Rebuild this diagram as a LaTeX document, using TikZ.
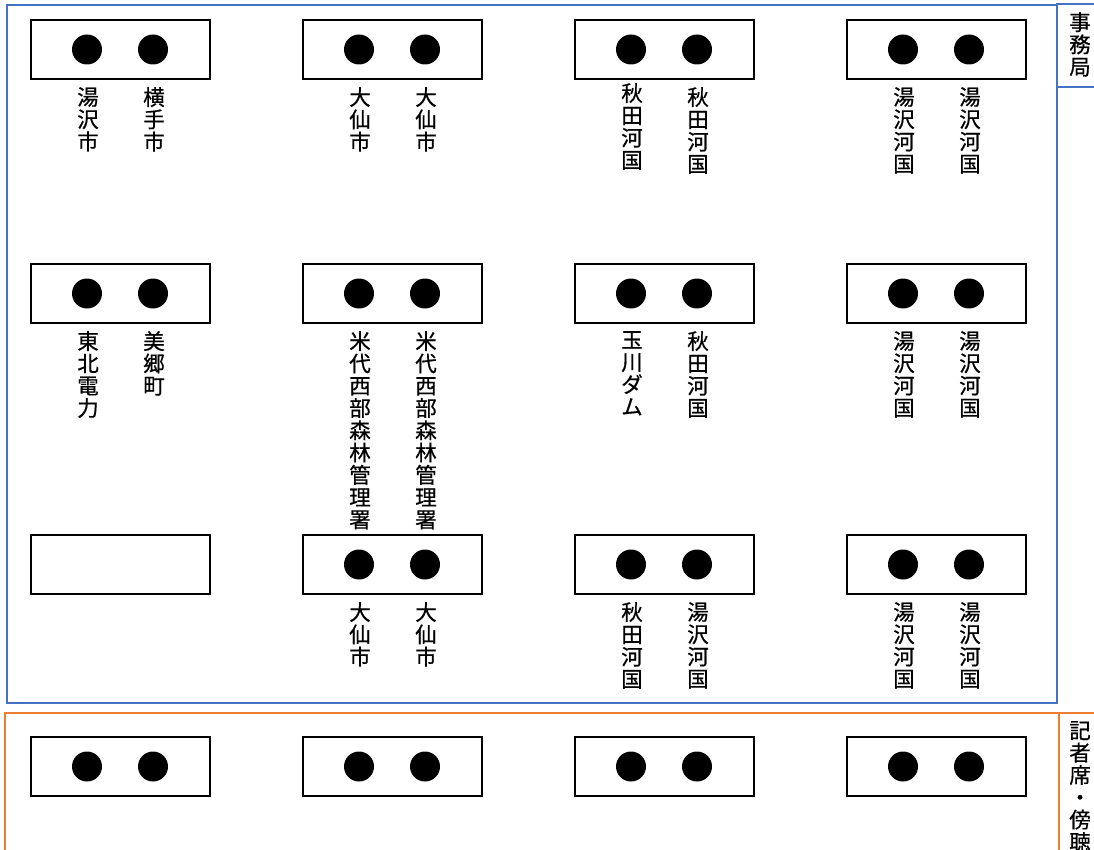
\documentclass[tikz,border=0pt]{standalone}
\usepackage{fontspec}
\newfontfamily\jp[FakeBold=0.6]{Noto Sans CJK JP}
\usetikzlibrary{calc}
\definecolor{frameblue}{HTML}{4472C4}
\definecolor{frameorange}{HTML}{ED7D31}
\begin{document}
\begin{tikzpicture}[x=1pt,y=-1pt,
  desk/.style={draw=black, line width=2pt, minimum width=179pt, minimum height=59pt, inner sep=0pt, outer sep=0pt, anchor=north west, fill=white},
  seat/.style={circle, fill=black, minimum size=30pt, inner sep=0pt},
  lbl/.style={anchor=north, inner sep=0pt, align=center, font=\jp\fontsize{21.5}{22.3}\selectfont},
  bluebox/.style={draw=frameblue, line width=2.2pt},
  orangebox/.style={draw=frameorange, line width=2.2pt}]
\useasboundingbox (0,0) rectangle (1094,850);
\fill[white] (0,0) rectangle (1094,850);
\clip (0,0) rectangle (1094,850);
% frames
\draw[bluebox] (7,5) rectangle (1057,703);
\draw[bluebox] (1057,4) rectangle (1104,87);
\draw[orangebox] (5,713) rectangle (1059,870);
\draw[orangebox] (1059,713) rectangle (1104,870);
\node[lbl] (jimu) at (1080,12) {事\\務\\局};
\node[lbl] (kisha) at (1080,721) {記\\者\\席\\・\\傍\\聴};
% desks
\foreach \c/\x in {1/31,2/303,3/575,4/847}{
  \foreach \r/\y in {1/20,2/264,3/535,4/737}{
    \node[desk] (d\r\c) at (\x,\y) {};
  }
}
% seats
\foreach \r/\c in {1/1,1/2,1/3,1/4,2/1,2/2,2/3,2/4,3/2,3/3,3/4,4/1,4/2,4/3,4/4}{
  \node[seat] (s\r\c a) at ($(d\r\c.west)+(56,0)$) {};
  \node[seat] (s\r\c b) at ($(d\r\c.west)+(122,0)$) {};
}
% labels
\newcommand{\seatlabel}[3]{\node[lbl] (l#1) at ($(s#1 |- d#2.south)+(1,8)$) {#3};}
\seatlabel{11a}{11}{湯\\沢\\市}
\seatlabel{11b}{11}{横\\手\\市}
\seatlabel{12a}{12}{大\\仙\\市}
\seatlabel{12b}{12}{大\\仙\\市}
\node[lbl] (l13a) at ($(s13a |- d13.south)+(1,4)$) {秋\\田\\河\\国};
\seatlabel{13b}{13}{秋\\田\\河\\国}
\seatlabel{14a}{14}{湯\\沢\\河\\国}
\seatlabel{14b}{14}{湯\\沢\\河\\国}
\seatlabel{21a}{21}{東\\北\\電\\力}
\seatlabel{21b}{21}{美\\郷\\町}
\seatlabel{22a}{22}{米\\代\\西\\部\\森\\林\\管\\理\\署}
\seatlabel{22b}{22}{米\\代\\西\\部\\森\\林\\管\\理\\署}
\seatlabel{23a}{23}{玉\\川\\ダ\\ム}
\seatlabel{23b}{23}{秋\\田\\河\\国}
\seatlabel{24a}{24}{湯\\沢\\河\\国}
\seatlabel{24b}{24}{湯\\沢\\河\\国}
\seatlabel{32a}{32}{大\\仙\\市}
\seatlabel{32b}{32}{大\\仙\\市}
\seatlabel{33a}{33}{秋\\田\\河\\国}
\seatlabel{33b}{33}{湯\\沢\\河\\国}
\seatlabel{34a}{34}{湯\\沢\\河\\国}
\seatlabel{34b}{34}{湯\\沢\\河\\国}
\end{tikzpicture}
\end{document}
